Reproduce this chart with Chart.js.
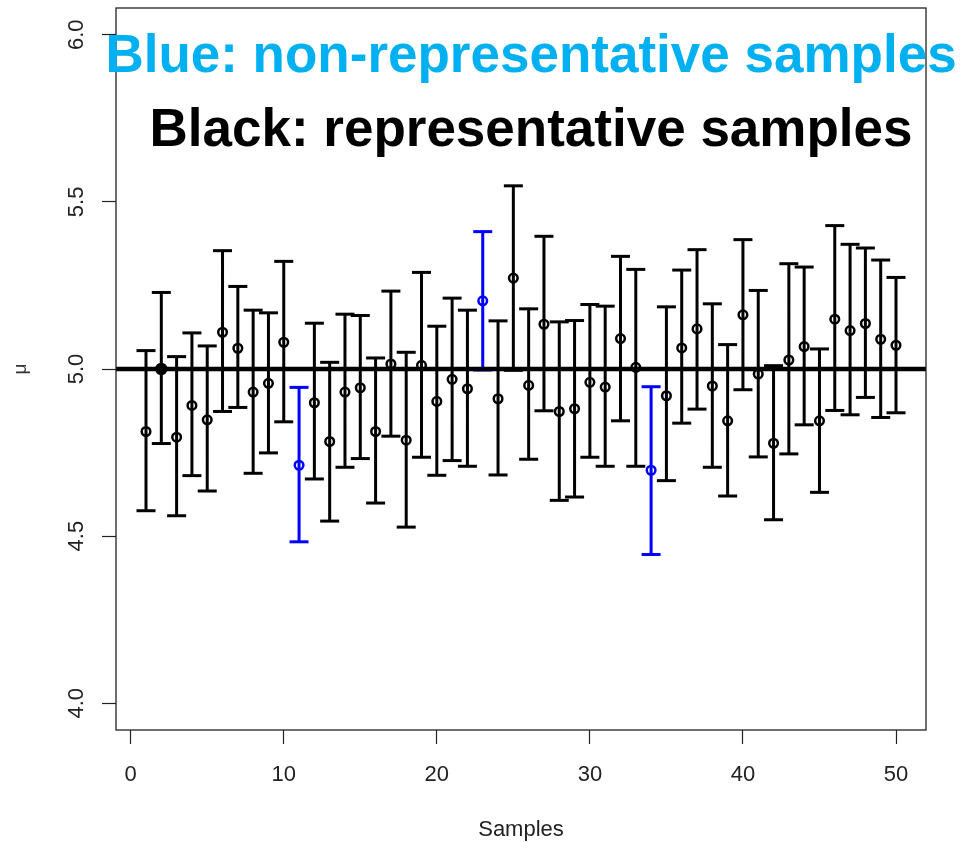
<!DOCTYPE html>
<html>
<head>
<meta charset="utf-8">
<script src="https://cdn.jsdelivr.net/npm/chart.js@4/dist/chart.umd.min.js"></script>
<style>
  html, body { margin: 0; padding: 0; background: #fff; }
  #container { width: 964px; height: 842px; }
</style>
</head>
<body>
<div id="container"><canvas id="chart" width="964" height="842"></canvas></div>
<script>
var samples = [
  1, 2, 3, 4, 5, 6, 7, 8, 9, 10,
  11, 12, 13, 14, 15, 16, 17, 18, 19, 20,
  21, 22, 23, 24, 25, 26, 27, 28, 29, 30,
  31, 32, 33, 34, 35, 36, 37, 38, 39, 40,
  41, 42, 43, 44, 45, 46, 47, 48, 49, 50
];

var means = [
  4.813, 5.000, 4.796, 4.891, 4.848, 5.110, 5.062, 4.931, 4.957, 5.080,
  4.712, 4.899, 4.783, 4.931, 4.944, 4.813, 5.015, 4.787, 5.011, 4.903,
  4.969, 4.941, 5.204, 4.911, 5.272, 4.951, 5.134, 4.873, 4.881, 4.960,
  4.946, 5.091, 5.005, 4.697, 4.920, 5.063, 5.120, 4.949, 4.845, 5.162,
  4.985, 4.778, 5.027, 5.067, 4.845, 5.149, 5.115, 5.136, 5.089, 5.071
];

var upper = [
  5.055, 5.229, 5.037, 5.108, 5.069, 5.354, 5.247, 5.176, 5.168, 5.322,
  4.945, 5.137, 5.020, 5.164, 5.160, 5.033, 5.233, 5.050, 5.289, 5.128,
  5.212, 5.176, 5.411, 5.144, 5.548, 5.180, 5.397, 5.141, 5.145, 5.193,
  5.188, 5.337, 5.298, 4.947, 5.186, 5.296, 5.357, 5.195, 5.073, 5.387,
  5.235, 5.010, 5.315, 5.305, 5.060, 5.429, 5.373, 5.362, 5.326, 5.274
];

var lower = [
  4.576, 4.777, 4.561, 4.681, 4.635, 4.873, 4.885, 4.688, 4.749, 4.842,
  4.483, 4.671, 4.545, 4.706, 4.732, 4.599, 4.799, 4.527, 4.736, 4.682,
  4.726, 4.709, 4.997, 4.683, 4.996, 4.730, 4.875, 4.607, 4.617, 4.736,
  4.709, 4.845, 4.709, 4.445, 4.666, 4.838, 4.880, 4.706, 4.620, 4.938,
  4.737, 4.549, 4.746, 4.833, 4.631, 4.876, 4.863, 4.915, 4.855, 4.869
];

// intervals that miss the true mean
var blueSamples = [11, 23, 34];
// drawn as a solid dot in the original
var filledSamples = [2];

var trueMean = 5.0;
var xTicks = [0, 10, 20, 30, 40, 50];
var yTicks = [4.0, 4.5, 5.0, 5.5, 6.0];
var xMin = -0.96, xMax = 51.96;
var yMin = 3.92, yMax = 6.08;

var BLUE = '#0000ff';
var BLACK = '#000000';
var TEXT = '#222222';


function buildPoints(blue) {
  var pts = [];
  for (var i = 0; i < samples.length; i++) {
    if ((blueSamples.indexOf(samples[i]) >= 0) !== blue) continue;
    pts.push({x: samples[i], y: means[i]});
  }
  return pts;
}


function buildBars(blue) {
  // lower, upper, gap -> one segment per sample
  var pts = [];
  for (var i = 0; i < samples.length; i++) {
    if ((blueSamples.indexOf(samples[i]) >= 0) !== blue) continue;
    pts.push({x: samples[i], y: lower[i]});
    pts.push({x: samples[i], y: upper[i]});
    pts.push({x: samples[i], y: null});
  }
  return pts;
}


function isFilled(ctx) {
  return ctx.raw && filledSamples.indexOf(ctx.raw.x) >= 0;
}


var decorations = {
  id: 'decorations',
  afterDraw: function(chart) {
    var ctx = chart.ctx;
    var area = chart.chartArea;
    var yScale = chart.scales.y;

    ctx.save();
    ctx.strokeStyle = '#222';
    ctx.lineWidth = 1.3;
    ctx.strokeRect(area.left, area.top, area.right - area.left, area.bottom - area.top);

    // rotated y tick labels, R style
    ctx.fillStyle = TEXT;
    ctx.font = '22px "Liberation Sans", Arial, sans-serif';
    ctx.textAlign = 'center';
    ctx.textBaseline = 'middle';
    for (var i = 0; i < yTicks.length; i++) {
      var py = yScale.getPixelForValue(yTicks[i]);
      ctx.save();
      ctx.translate(77, py);
      ctx.rotate(-Math.PI / 2);
      ctx.fillText(yTicks[i].toFixed(1), 0, 0);
      ctx.restore();
    }

    ctx.textAlign = 'center';
    ctx.textBaseline = 'alphabetic';
    ctx.font = 'bold 53px "Liberation Sans", Arial, sans-serif';
    ctx.fillStyle = '#00b0f0';
    ctx.fillText('Blue: non-representative samples', 531, 72);
    ctx.fillStyle = BLACK;
    ctx.fillText('Black: representative samples', 531, 146);
    ctx.restore();
  }
};


document.addEventListener('DOMContentLoaded', function() {
  var canvas = document.getElementById('chart');

  new Chart(canvas, {
    type: 'scatter',
    data: {
      datasets: [
        {
          label: 'means',
          data: buildPoints(false),
          pointStyle: 'circle',
          pointRadius: function(c) { return isFilled(c) ? 5 : 4.3; },
          pointBorderWidth: 2.5,
          pointBorderColor: BLACK,
          pointBackgroundColor: function(c) { return isFilled(c) ? BLACK : 'rgba(0,0,0,0)'; },
        },
        {
          label: 'means (miss)',
          data: buildPoints(true),
          pointStyle: 'circle',
          pointRadius: 4.3,
          pointBorderWidth: 2.5,
          pointBorderColor: BLUE,
          pointBackgroundColor: 'rgba(0,0,0,0)',
        },
        {
          label: 'true mean',
          data: [{x: xMin, y: trueMean}, {x: xMax, y: trueMean}],
          showLine: true,
          borderColor: BLACK,
          borderWidth: 4.5,
          pointRadius: 0,
        },
        {
          label: 'intervals (miss)',
          data: buildBars(true),
          showLine: true,
          spanGaps: false,
          borderColor: BLUE,
          borderWidth: 3,
          borderCapStyle: 'butt',
          pointStyle: 'line',
          pointRadius: 9.5,
          pointBorderWidth: 3,
          pointBorderColor: BLUE,
        },
        {
          label: 'intervals',
          data: buildBars(false),
          showLine: true,
          spanGaps: false,
          borderColor: BLACK,
          borderWidth: 3,
          borderCapStyle: 'butt',
          pointStyle: 'line',
          pointRadius: 9.5,
          pointBorderWidth: 3,
          pointBorderColor: BLACK,
        },
      ],
    },
    options: {
      responsive: false,
      animation: false,
      events: [],
      layout: {
        autoPadding: false,
        padding: {top: 8, right: 38, left: 0, bottom: 0},
      },
      plugins: {
        legend: {display: false},
        tooltip: {enabled: false},
      },
      scales: {
        x: {
          type: 'linear',
          min: xMin,
          max: xMax,
          afterBuildTicks: function(scale) {
            scale.ticks = xTicks.map(function(v) { return {value: v}; });
          },
          afterFit: function(scale) {
            scale.height = 112;
            scale.paddingLeft = 0;
            scale.paddingRight = 0;
          },
          border: {display: false},
          grid: {
            drawOnChartArea: false,
            drawTicks: true,
            tickLength: 14,
            tickColor: '#222',
            tickWidth: 1.2,
          },
          ticks: {
            padding: 18,
            color: TEXT,
            maxRotation: 0,
            font: {family: '"Liberation Sans", Arial, sans-serif', size: 22},
          },
          title: {
            display: true,
            text: 'Samples',
            color: TEXT,
            padding: {top: 0, bottom: 1},
            font: {family: '"Liberation Sans", Arial, sans-serif', size: 22, lineHeight: 1},
          },
        },
        y: {
          type: 'linear',
          min: yMin,
          max: yMax,
          afterBuildTicks: function(scale) {
            scale.ticks = yTicks.map(function(v) { return {value: v}; });
          },
          afterFit: function(scale) {
            scale.width = 116;
            scale.paddingTop = 0;
            scale.paddingBottom = 0;
          },
          border: {display: false},
          grid: {
            drawOnChartArea: false,
            drawTicks: true,
            tickLength: 14,
            tickColor: '#222',
            tickWidth: 1.2,
          },
          ticks: {
            color: 'rgba(0,0,0,0)',
            padding: 0,
            font: {size: 1},
          },
          title: {
            display: true,
            text: 'μ',
            color: '#333',
            padding: {top: 11, bottom: 0},
            font: {family: '"Liberation Sans", Arial, sans-serif', size: 19, lineHeight: 1},
          },
        },
      },
    },
    plugins: [decorations],
  });
});
</script>
</body>
</html>
